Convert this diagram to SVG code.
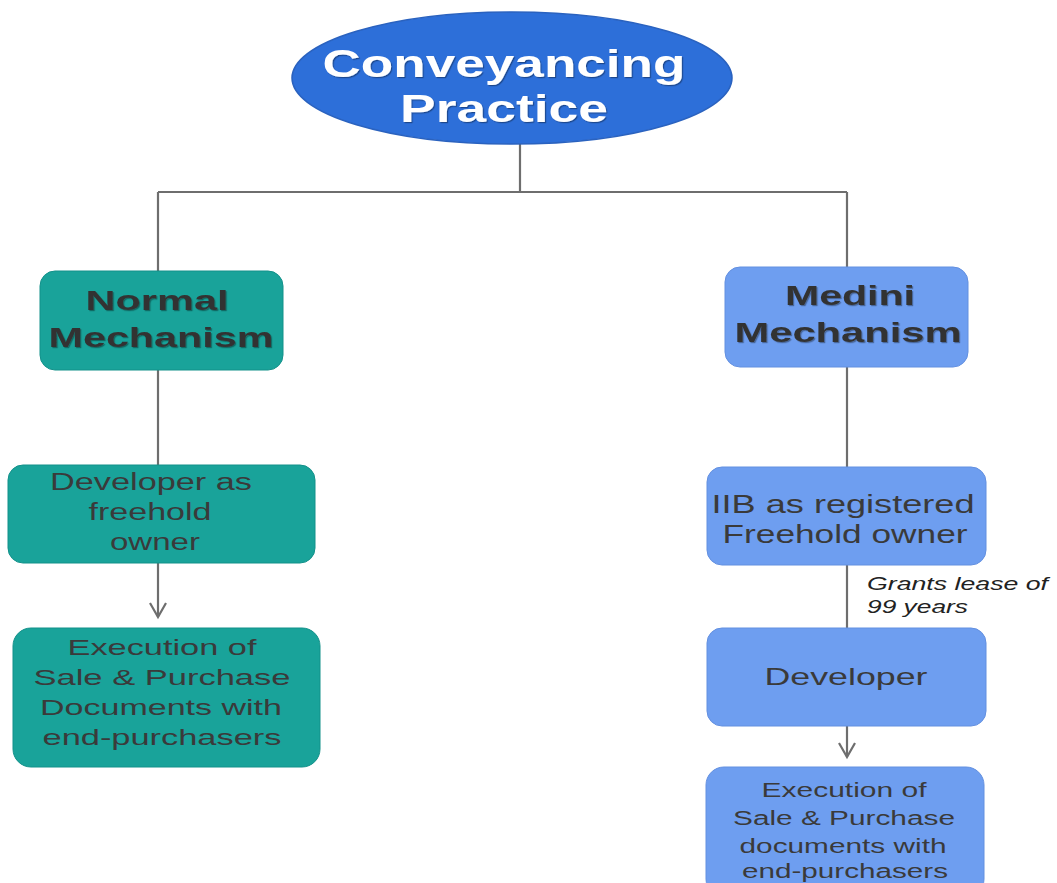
<svg xmlns="http://www.w3.org/2000/svg" width="1057" height="883" viewBox="0 0 1057 883">
<defs>
<style>
.conn{fill:none;stroke:#6e6e6e;stroke-width:2.2}
.teal{fill:#19a39a;stroke:#13918a;stroke-width:1}
.blue{fill:#6e9ef0;stroke:#6390e0;stroke-width:1}
.t{font-family:"Liberation Sans",Arial,sans-serif;fill:#3a3a3a;text-anchor:middle}
.b{font-weight:bold;font-size:28px;fill:#333}
.title{font-family:"Liberation Sans",Arial,sans-serif;font-weight:bold;font-size:38px;fill:#fff;text-anchor:middle}
.lbl{font-family:"Liberation Sans",Arial,sans-serif;font-style:italic;font-size:18px;fill:#222}
</style>
<filter id="sh" x="-10%" y="-10%" width="120%" height="130%">
<feDropShadow dx="1.2" dy="1.2" stdDeviation="0.5" flood-color="#000" flood-opacity="0.35"/>
</filter>
<marker id="arr" markerWidth="18" markerHeight="18" refX="15" refY="9" orient="auto" markerUnits="userSpaceOnUse" viewBox="0 0 18 18">
<path d="M1,1 L15,9 L1,17" fill="none" stroke="#6e6e6e" stroke-width="2.2"/>
</marker>
</defs>
<rect width="1057" height="883" fill="#fff"/>

<g id="connectors">
<path class="conn" d="M520,144 V192 M158,192 H847 M158,192 V271 M847,192 V267"/>
<path class="conn" d="M158,370 V465"/>
<path class="conn" d="M158,563 V617" marker-end="url(#arr)"/>
<path class="conn" d="M847,367 V467"/>
<path class="conn" d="M847,565 V628"/>
<path class="conn" d="M847,726 V757" marker-end="url(#arr)"/>
<text class="lbl" x="867" y="590" textLength="181" lengthAdjust="spacingAndGlyphs">Grants lease of</text>
<text class="lbl" x="867" y="613" textLength="101" lengthAdjust="spacingAndGlyphs">99 years</text>
</g>

<g id="root">
<ellipse cx="512" cy="78" rx="220" ry="66" fill="#2d6fd9" stroke="#2a62bf" stroke-width="1.5"/>
<text class="title" x="504" y="77" textLength="363" lengthAdjust="spacingAndGlyphs" filter="url(#sh)">Conveyancing</text>
<text class="title" x="504" y="122" textLength="208" lengthAdjust="spacingAndGlyphs" filter="url(#sh)">Practice</text>
</g>

<g id="normal">
<rect class="teal" x="40" y="271" width="243" height="99" rx="15"/>
<text class="t b" x="157" y="310" textLength="143" lengthAdjust="spacingAndGlyphs" filter="url(#sh)">Normal</text>
<text class="t b" x="161" y="347" textLength="225" lengthAdjust="spacingAndGlyphs" filter="url(#sh)">Mechanism</text>
</g>

<g id="dev-freehold">
<rect class="teal" x="8" y="465" width="307" height="98" rx="15"/>
<text class="t" font-size="23" x="151" y="490" textLength="202" lengthAdjust="spacingAndGlyphs">Developer as</text>
<text class="t" font-size="23" x="150" y="520" textLength="123" lengthAdjust="spacingAndGlyphs">freehold</text>
<text class="t" font-size="23" x="155" y="550" textLength="90" lengthAdjust="spacingAndGlyphs">owner</text>
</g>

<g id="exec-left">
<rect class="teal" x="13" y="628" width="307" height="139" rx="18"/>
<text class="t" font-size="22" x="162" y="655" textLength="189" lengthAdjust="spacingAndGlyphs">Execution of</text>
<text class="t" font-size="22" x="162" y="685" textLength="257" lengthAdjust="spacingAndGlyphs">Sale &amp; Purchase</text>
<text class="t" font-size="22" x="161" y="715" textLength="242" lengthAdjust="spacingAndGlyphs">Documents with</text>
<text class="t" font-size="22" x="162" y="745" textLength="239" lengthAdjust="spacingAndGlyphs">end-purchasers</text>
</g>

<g id="medini">
<rect class="blue" x="725" y="267" width="243" height="100" rx="15"/>
<text class="t b" x="850" y="305" textLength="130" lengthAdjust="spacingAndGlyphs" filter="url(#sh)">Medini</text>
<text class="t b" x="848" y="342" textLength="227" lengthAdjust="spacingAndGlyphs" filter="url(#sh)">Mechanism</text>
</g>

<g id="iib">
<rect class="blue" x="707" y="467" width="279" height="98" rx="15"/>
<text class="t" font-size="25" fill="#2e2e2e" x="843" y="513" textLength="263" lengthAdjust="spacingAndGlyphs">IIB as registered</text>
<text class="t" font-size="25" x="845" y="543" textLength="245" lengthAdjust="spacingAndGlyphs">Freehold owner</text>
</g>

<g id="developer">
<rect class="blue" x="707" y="628" width="279" height="98" rx="15"/>
<text class="t" font-size="24" x="846" y="685" textLength="163" lengthAdjust="spacingAndGlyphs">Developer</text>
</g>

<g id="exec-right">
<rect class="blue" x="706" y="767" width="278" height="130" rx="18"/>
<text class="t" font-size="20" x="844" y="797" textLength="165" lengthAdjust="spacingAndGlyphs">Execution of</text>
<text class="t" font-size="20" x="844" y="825" textLength="222" lengthAdjust="spacingAndGlyphs">Sale &amp; Purchase</text>
<text class="t" font-size="20" x="843" y="853" textLength="207" lengthAdjust="spacingAndGlyphs">documents with</text>
<text class="t" font-size="20" x="845" y="878" textLength="206" lengthAdjust="spacingAndGlyphs">end-purchasers</text>
</g>
</svg>
